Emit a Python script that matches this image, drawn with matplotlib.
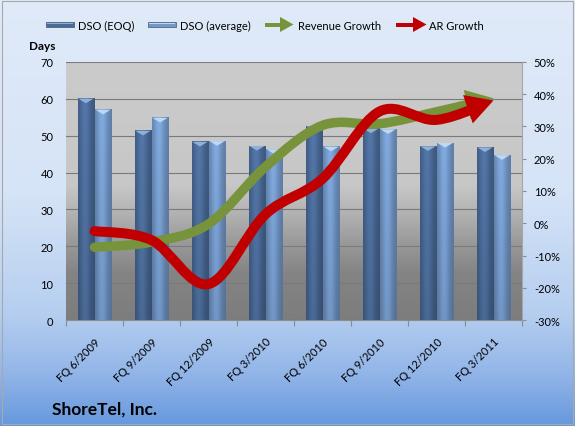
import numpy as np
import matplotlib
matplotlib.use("Agg")
import matplotlib.pyplot as plt
from matplotlib.path import Path
from matplotlib.patches import PathPatch, Polygon, Rectangle
from matplotlib.colors import LinearSegmentedColormap, to_rgb

# ---------------- data ----------------
categories = ["FQ 6/2009", "FQ 9/2009", "FQ 12/2009", "FQ 3/2010",
              "FQ 6/2010", "FQ 9/2010", "FQ 12/2010", "FQ 3/2011"]
dso_eoq = [60.1, 51.4, 48.4, 47.3, 52.6, 52.0, 47.2, 46.9]
dso_avg = [57.1, 54.9, 48.6, 46.4, 47.1, 51.8, 48.1, 44.8]
revenue_growth = [-7.4, -5.8, -0.2, 17.5, 30.3, 30.8, 34.5, 38.7]
ar_growth = [-2.4, -5.2, -18.8, 2.8, 13.8, 34.6, 32.0, 38.0]
days_ticks = [0, 10, 20, 30, 40, 50, 60, 70]
pct_ticks = [-30, -20, -10, 0, 10, 20, 30, 40, 50]
series_names = ["DSO (EOQ)", "DSO (average)", "Revenue Growth", "AR Growth"]
left_axis_title = "Days"
chart_title = "ShoreTel, Inc."

plt.rcParams["font.family"] = ["Lato", "DejaVu Sans"]

W, H = 575, 427
DPI = 100
fig = plt.figure(figsize=(W / DPI, H / DPI), dpi=DPI)

C_EOQ = "#4a6a97"
C_AVG = "#7398c8"
C_REV = "#77933c"
C_AR = "#c00000"


def px(x, y):
    return (x / W, 1 - y / H)


# ---------------- figure background ----------------
bg = fig.add_axes([0, 0, 1, 1])
bg.set_zorder(-5)
bg.axis("off")
fig_cmap = LinearSegmentedColormap.from_list(
    "figbg", [(0, "#e0eaf9"), (0.45, "#d6e4f7"), (0.74, "#b5cef0"),
              (0.88, "#92b5e8"), (1, "#6698dd")])
bg.imshow(np.linspace(0, 1, 256)[:, None], cmap=fig_cmap, aspect="auto",
          extent=[0, 1, 0, 1], origin="upper", interpolation="bilinear")
bg.set_xlim(0, 1)
bg.set_ylim(0, 1)
bg.add_patch(Rectangle((2 / W, 2 / H), 1 - 4 / W, 1 - 4 / H, fill=False,
                       ec="#a8a8a8", lw=0.8))

# ---------------- main axes ----------------
L, R, T, B = 66, 522, 62.7, 321.3
ax = fig.add_axes([L / W, 1 - B / H, (R - L) / W, (B - T) / H])
plot_cmap = LinearSegmentedColormap.from_list(
    "plotbg", [(0, "#cbcbcb"), (0.48, "#c7c7c7"), (0.58, "#b4b4b4"),
               (0.70, "#9a9a9a"), (0.82, "#848484"), (1, "#7d7d7d")])
ax.imshow(np.linspace(0, 1, 256)[:, None], cmap=plot_cmap, aspect="auto",
          extent=[0, 1, 0, 1], origin="upper", transform=ax.transAxes,
          zorder=0, interpolation="bilinear")
ax.patch.set_visible(False)

x = np.arange(len(categories))
bw = 0.29
bars_eoq = ax.bar(x - 0.15, dso_eoq, bw, color=C_EOQ, ec="#34496b", lw=0.5, zorder=2)
bars_avg = ax.bar(x + 0.15, dso_avg, bw, color=C_AVG, ec="#4d6a93", lw=0.5, zorder=2)


def shade_bar(rect, base, cap):
    x0, y0, w, h = rect.get_x(), rect.get_y(), rect.get_width(), rect.get_height()
    u = np.linspace(0, 1, 64)
    fx = 0.80 + 0.28 * np.exp(-((u - 0.42) / 0.32) ** 2)
    v = np.linspace(0, 1, 64)[:, None]
    fy = 1.04 - 0.12 * v
    rgb = np.array(to_rgb(base))[None, None, :] * fx[None, :, None] * fy[:, :, None]
    im = ax.imshow(np.clip(rgb, 0, 1), extent=[x0, x0 + w, y0, y0 + h],
                   aspect="auto", origin="upper", zorder=2.1,
                   interpolation="bilinear")
    im.set_clip_path(rect)
    top = y0 + h
    d = 1.35
    ax.fill([x0 + 0.01, x0 + w - 0.01, x0 + w / 2], [top - 0.1, top - 0.1, top - d],
            color=cap, lw=0, zorder=2.2)


for r in bars_eoq:
    shade_bar(r, C_EOQ, "#8fb0d9")
for r in bars_avg:
    shade_bar(r, C_AVG, "#bcd8f3")

ax.set_xlim(-0.5, len(categories) - 0.5)
ax.set_ylim(days_ticks[0], days_ticks[-1])
ax.set_yticks(days_ticks)
ax.set_yticklabels([str(v) for v in days_ticks])
ax.yaxis.grid(True, color="#7a7a7a", lw=0.8)
ax.set_axisbelow(True)
ax.tick_params(axis="y", length=0, labelsize=8, pad=9)
ax.set_xticks(np.arange(-0.5, len(categories), 1))
ax.set_xticklabels([])
ax.tick_params(axis="x", which="major", length=4, color="#8c8c8c", direction="out")
ax.set_xticks(x, minor=True)
ax.set_xticklabels(categories, minor=True, rotation=45, ha="right", va="top",
                   rotation_mode="anchor", fontsize=8)
ax.tick_params(axis="x", which="minor", length=0, pad=11)
for s in ["left", "top", "right"]:
    ax.spines[s].set_visible(False)
ax.spines["bottom"].set_color("#8c8c8c")
ax.spines["bottom"].set_linewidth(0.8)

ax2 = ax.twinx()
ax2.set_ylim(pct_ticks[0], pct_ticks[-1])
ax2.set_yticks(pct_ticks)
ax2.set_yticklabels([f"{v}%" for v in pct_ticks])
ax2.tick_params(axis="y", length=3, color="#8c8c8c", labelsize=8, pad=5.5)
for s in ["left", "top", "bottom"]:
    ax2.spines[s].set_visible(False)
ax2.spines["right"].set_color("#a6a6a6")
ax2.spines["right"].set_linewidth(0.8)


# ---------------- smooth arrow lines ----------------
def bezier_segments(xs, ys):
    P = np.column_stack([xs, ys]).astype(float)
    n = len(P)
    segs = []
    for i in range(n - 1):
        p0 = P[max(i - 1, 0)]
        p1 = P[i]
        p2 = P[i + 1]
        p3 = P[min(i + 2, n - 1)]
        segs.append(np.array([p1, p1 + (p2 - p0) / 6, p2 - (p3 - p1) / 6, p2]))
    return segs


def bez_eval(s, t):
    t = t[:, None]
    return ((1 - t) ** 3) * s[0] + 3 * ((1 - t) ** 2) * t * s[1] + 3 * (1 - t) * t ** 2 * s[2] + t ** 3 * s[3]


def split_left(s, t):
    a = s[0] + (s[1] - s[0]) * t
    b = s[1] + (s[2] - s[1]) * t
    c = s[2] + (s[3] - s[2]) * t
    d = a + (b - a) * t
    e = b + (c - b) * t
    f = d + (e - d) * t
    return np.array([s[0], a, d, f])


def arrow_curve(axis, xs, ys, color, lw_px=10, head_len=27, head_half=15, z=3):
    segs = bezier_segments(xs, ys)
    tr = axis.transData
    last = segs[-1]
    last_d = tr.transform(last)
    tip = last_d[3]
    dvec = last_d[3] - last_d[2]
    dvec = dvec / np.linalg.norm(dvec)
    nvec = np.array([-dvec[1], dvec[0]])
    base = tip - head_len * dvec
    ts = np.linspace(0, 1, 2001)
    pts = bez_eval(last_d, ts)
    dist = np.linalg.norm(pts - tip, axis=1)
    cut = head_len * 0.85
    idx = np.where(dist >= cut)[0]
    t_cut = ts[idx[-1]] if len(idx) else 0.5
    segs[-1] = split_left(last, t_cut)
    verts = [segs[0][0]]
    codes = [Path.MOVETO]
    for s in segs:
        verts += [s[1], s[2], s[3]]
        codes += [Path.CURVE4] * 3
    axis.add_patch(PathPatch(Path(np.array(verts), codes), fill=False, ec=color,
                             lw=lw_px * 72 / DPI, capstyle="round",
                             joinstyle="round", zorder=z))
    head = np.array([tip, base + head_half * nvec, base - head_half * nvec])
    axis.add_patch(Polygon(tr.inverted().transform(head), closed=True, fc=color,
                           ec="none", zorder=z))


arrow_curve(ax2, x, revenue_growth, C_REV, lw_px=9.5, z=3)
arrow_curve(ax2, x, ar_growth, C_AR, lw_px=10, z=3.1)

# ---------------- legend ----------------
def legend_bar(x0, color, hl):
    bg.add_patch(Rectangle(px(x0, 28), 28 / W, 5 / H, fc=color, ec="#3f5578", lw=0.5))
    bg.add_patch(Rectangle(px(x0 + 1, 25), 26 / W, 1.5 / H, fc=hl, ec="none"))


def legend_arrow(x0, x1, color):
    hx = x1 - 13.5
    bg.plot([px(x0, 25.5)[0], px(hx + 1, 25.5)[0]], [px(x0, 25.5)[1]] * 2,
            color=color, lw=4 * 72 / DPI, solid_capstyle="butt")
    bg.add_patch(Polygon([px(hx, 18), px(x1, 25.5), px(hx, 33)], closed=True,
                         fc=color, ec="none"))


legend_bar(45.5, C_EOQ, "#8fb0d9")
legend_bar(148, C_AVG, "#bcd8f3")
legend_arrow(265, 293.5, C_REV)
legend_arrow(395.5, 426.5, C_AR)
ly = 1 - 26 / H
for xt, name in zip([77.5, 179.5, 298, 429], series_names):
    fig.text(xt / W, ly, name, fontsize=8, va="center", ha="left", color="#000000")

fig.text(29 / W, 1 - 47 / H, left_axis_title, fontsize=8.5, fontweight="bold",
         va="center", ha="left")
fig.text(52 / W, 1 - 415 / H, chart_title, fontsize=12.5, fontweight="bold",
         va="baseline", ha="left")

fig.savefig("out.png", dpi=DPI)
